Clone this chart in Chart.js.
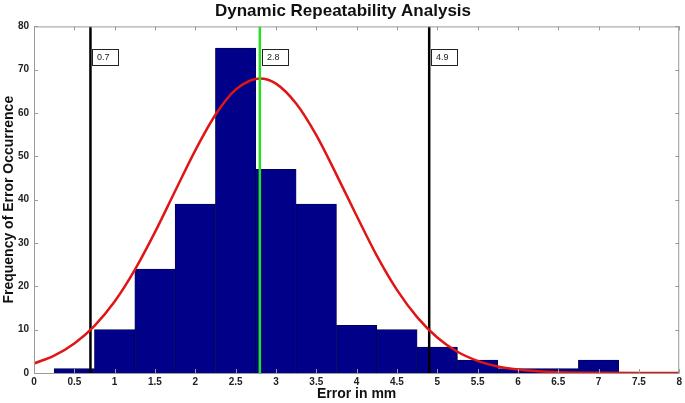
<!DOCTYPE html>
<html><head><meta charset="utf-8">
<script src="https://cdn.jsdelivr.net/npm/chart.js@4"></script>
<style>html,body{margin:0;padding:0;background:#fff}#wrap{width:685px;height:403px}</style>
</head><body><div id="wrap"><canvas id="c" width="685" height="403"></canvas></div>
<script>
// Histogram bins (centres, mm) and counts
const binCenters = [0.5, 1.0, 1.5, 2.0, 2.5, 3.0, 3.5, 4.0, 4.5, 5.0, 5.5, 6.0, 6.5, 7.0];
const binCounts  = [1, 10, 24, 39, 75, 47, 39, 11, 10, 6, 3, 1, 1, 3];
// Fitted curve
const curveX = [0, 0.25, 0.5, 0.75, 1.0, 1.25, 1.5, 1.75, 2.0, 2.25, 2.5, 2.8, 3.0, 3.25, 3.5, 3.75, 4.0, 4.25, 4.5, 4.75, 5.0, 5.25, 5.5, 5.75, 6.0, 6.25, 6.5, 7.0, 7.5, 8.0];
const curveY = [2.2, 4.0, 6.8, 10.9, 16.5, 23.8, 32.5, 42.0, 51.4, 59.6, 65.4, 68, 66.8, 62.2, 54.9, 45.8, 36.3, 27.1, 19.2, 12.9, 8.2, 4.9, 2.8, 1.5, 0.8, 0.4, 0.2, 0.05, 0, 0];
// Marker lines
const limitLines = [0.7, 4.9];
const meanLine = 2.8;
const lineLabels = ['0.7', '2.8', '4.9'];
const xTicks = [0,0.5,1,1.5,2,2.5,3,3.5,4,4.5,5,5.5,6,6.5,7,7.5,8];
const yTicks = [0,10,20,30,40,50,60,70,80];

const FONT = "'Liberation Sans', Arial, sans-serif";

const frame = {
  id: 'frame',
  afterDatasetsDraw(chart) {
    const {ctx, chartArea: a, scales: {x, y}} = chart;
    ctx.save();
    ctx.strokeStyle = '#9a9a9a';
    ctx.lineWidth = 1;
    ctx.strokeRect(a.left + 0.5, a.top + 0.5, a.right - a.left - 1, a.bottom - a.top);
    ctx.beginPath();
    const L = 4;
    xTicks.forEach(v => {
      const px = Math.round(x.getPixelForValue(v)) + 0.5;
      ctx.moveTo(px, a.top); ctx.lineTo(px, a.top + L);
      ctx.moveTo(px, a.bottom); ctx.lineTo(px, a.bottom - L);
    });
    yTicks.forEach(v => {
      const py = Math.round(y.getPixelForValue(v)) + 0.5;
      ctx.moveTo(a.left, py); ctx.lineTo(a.left + L, py);
      ctx.moveTo(a.right, py); ctx.lineTo(a.right - L, py);
    });
    ctx.stroke();
    const vals = [limitLines[0], meanLine, limitLines[1]];
    ctx.font = '9px ' + FONT;
    ctx.textBaseline = 'middle';
    vals.forEach((v, i) => {
      const px = Math.round(x.getPixelForValue(v)) + 2;
      const top = Math.round(y.getPixelForValue(74.8));
      const bot = Math.round(y.getPixelForValue(71.2));
      ctx.fillStyle = '#fff';
      ctx.fillRect(px, top, 26, bot - top);
      ctx.strokeStyle = '#222';
      ctx.strokeRect(px + 0.5, top + 0.5, 26, bot - top);
      ctx.fillStyle = '#222';
      ctx.fillText(lineLabels[i], px + 5, (top + bot) / 2 + 1);
    });
    ctx.restore();
  }
};

new Chart(document.getElementById('c'), {
  data: {
    datasets: [
      { type: 'bar', data: binCenters.map((c, i) => ({x: c, y: binCounts[i]})),
        backgroundColor: '#000088', borderColor: '#00003a', borderWidth: 0.6,
        barPercentage: 1, categoryPercentage: 1, order: 5 },
      { type: 'line', data: curveX.map((c, i) => ({x: c, y: curveY[i]})),
        borderColor: '#e01515', borderWidth: 2.5, pointRadius: 0, tension: 0.4,
        cubicInterpolationMode: 'monotone', order: 1 },
      { type: 'line', data: [{x: limitLines[0], y: 0}, {x: limitLines[0], y: 80}],
        borderColor: '#000', borderWidth: 2.5, pointRadius: 0, order: 2 },
      { type: 'line', data: [{x: limitLines[1], y: 0}, {x: limitLines[1], y: 80}],
        borderColor: '#000', borderWidth: 2.5, pointRadius: 0, order: 2 },
      { type: 'line', data: [{x: meanLine, y: 0}, {x: meanLine, y: 80}],
        borderColor: '#22e022', borderWidth: 2.5, pointRadius: 0, order: 0 }
    ]
  },
  options: {
    responsive: false, animation: false,
    layout: { padding: { left: 1, right: 0, top: 0, bottom: 0 } },
    plugins: {
      legend: { display: false }, tooltip: { enabled: false },
      title: { display: true, text: 'Dynamic Repeatability Analysis', color: '#111',
        font: { family: FONT, size: 17, weight: 'bold' }, padding: { top: 1, bottom: 5 } }
    },
    scales: {
      x: { type: 'linear', min: 0, max: 8, offset: false,
        afterBuildTicks: s => { s.ticks = xTicks.map(v => ({value: v})); },
        ticks: { color: '#222', font: { family: FONT, size: 10, weight: 'bold' }, padding: 3, maxRotation: 0, autoSkip: false,
          callback: v => String(v) },
        grid: { display: false, drawTicks: false }, border: { display: false },
        title: { display: true, text: 'Error in mm', color: '#111', font: { family: FONT, size: 14, weight: 'bold' }, padding: 0 },
        afterFit: s => { s.height = 30; } },
      y: { min: 0, max: 80,
        afterBuildTicks: s => { s.ticks = yTicks.map(v => ({value: v})); },
        ticks: { color: '#222', font: { family: FONT, size: 10, weight: 'bold' }, padding: 5 },
        grid: { display: false, drawTicks: false }, border: { display: false },
        title: { display: true, text: 'Frequency of Error Occurrence', color: '#111', font: { family: FONT, size: 14, weight: 'bold' }, padding: 0 },
        afterFit: s => { s.width = 33; } }
    }
  },
  plugins: [frame]
});
</script></body></html>
